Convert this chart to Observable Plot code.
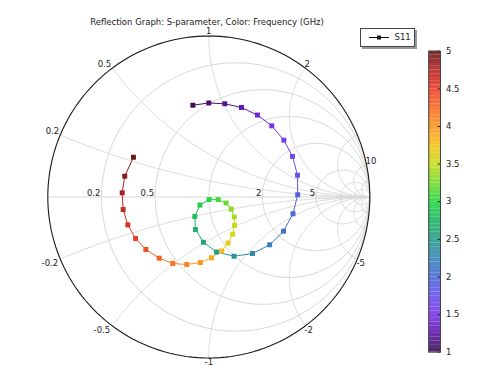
<!DOCTYPE html>
<html><head><meta charset="utf-8">
<script src="https://cdn.jsdelivr.net/npm/d3@7"></script>
<script src="https://cdn.jsdelivr.net/npm/@observablehq/plot@0.6"></script>
<style>
body{margin:0;background:#fff;font-family:"DejaVu Sans",sans-serif;}
#wrap{position:relative;width:479px;height:366px;overflow:hidden;background:#fff;}
#wrap > svg, #wrap > div{position:absolute;}
#title{left:0;top:17px;width:414px;text-align:center;font-size:8.5px;line-height:10px;color:#222;}
#legend{left:359.5px;top:28px;width:53px;height:17px;border:1px solid #444;box-shadow:2px 2px 0 #999;background:#fff;}
#legend span{position:absolute;left:34px;top:3px;font-size:8.5px;line-height:10px;color:#222;}
</style></head><body><div id="wrap"></div>
<script>
// Frequency (GHz) and reflection coefficient S11 (real, imaginary)
const freq = [1.0,1.1,1.2,1.3,1.4,1.5,1.6,1.7,1.8,1.9,2.0,2.1,2.2,2.3,2.4,2.5,2.6,2.7,2.8,2.9,3.0,3.1,3.2,3.3,3.4,3.5,3.6,3.7,3.8,3.9,4.0,4.1,4.2,4.3,4.4,4.5,4.6,4.7,4.8,4.9,5.0];
const s11Re = [-0.099,0.000,0.099,0.203,0.302,0.391,0.466,0.520,0.551,0.552,0.523,0.464,0.378,0.271,0.157,0.048,-0.033,-0.083,-0.087,-0.055,0.002,0.058,0.107,0.139,0.158,0.160,0.148,0.119,0.080,0.017,-0.052,-0.137,-0.224,-0.308,-0.391,-0.455,-0.503,-0.532,-0.538,-0.522,-0.468];
const s11Im = [0.570,0.584,0.579,0.556,0.509,0.442,0.353,0.252,0.135,0.014,-0.104,-0.212,-0.297,-0.351,-0.368,-0.342,-0.281,-0.202,-0.121,-0.050,-0.016,-0.016,-0.037,-0.075,-0.124,-0.177,-0.231,-0.286,-0.335,-0.378,-0.407,-0.419,-0.413,-0.380,-0.326,-0.258,-0.173,-0.078,0.026,0.129,0.247];

// Smith chart grid
const resistanceGrid = [0.2, 0.5, 1, 2, 5, 10, 20];
const reactanceGrid = [0.2, 0.5, 1, 2, 5, 10, 20, -0.2, -0.5, -1, -2, -5, -10, -20];
const resistanceLabels = [0.2, 0.5, 2, 5];
const reactanceLabels = [1, 0.5, 0.2, 2, 10, -0.2, -0.5, -1, -2, -5];

// Colour bar
const colorTicks = [1, 1.5, 2, 2.5, 3, 3.5, 4, 4.5, 5];
const colorStops = [1, 1.25, 1.5, 1.75, 2, 2.25, 2.5, 2.75, 3, 3.25, 3.5, 3.75, 4, 4.25, 4.5, 4.75, 5];
const colorStopColors = ["#3b0f4f","#5c16a8","#7b35ec","#6752ea","#4a6ad8","#3585b5","#249c8c","#1fb864","#22d840","#7ada2a","#c8dc1c","#f8c21a","#fa9522","#f86a22","#ec3c26","#b82424","#681818"];

const title = "Reflection Graph: S-parameter, Color: Frequency (GHz)";
const seriesName = "S11";

const data = freq.map((f, i) => ({f, re: s11Re[i], im: s11Im[i]}));

// grid geometry from the grid values
function resistanceCircle(r, id) {
  const c = r / (1 + r), rad = 1 / (1 + r);
  return d3.range(0, 361, 2).map(a => ({id, re: c + rad * Math.cos(a * Math.PI / 180), im: rad * Math.sin(a * Math.PI / 180)}));
}
function reactanceArc(x, id) {
  const pts = d3.range(0, 400).map(k => {
    const r = Math.tan(k / 400 * Math.PI / 2);
    const den = (r + 1) * (r + 1) + x * x;
    return {id, re: (r * r - 1 + x * x) / den, im: 2 * x / den};
  });
  pts.push({id, re: 1, im: 0});
  return pts;
}
const gridLines = [
  ...resistanceGrid.flatMap(r => resistanceCircle(r, "r" + r)),
  ...reactanceGrid.flatMap(x => reactanceArc(x, "x" + x))
];
const outer = resistanceCircle(0, "outer");

const rLab = resistanceLabels.map(r => ({t: String(r), re: (r - 1) / (r + 1), im: 0}));
const xLab = reactanceLabels.map(x => ({t: String(x), re: (x * x - 1) / (x * x + 1), im: 2 * x / (x * x + 1)}));

const font = {fontFamily: '"DejaVu Sans", sans-serif', fontSize: "8.5px", fill: "#222"};
function labelGroup(filter, anchor, dx, dy) {
  return Plot.text(xLab.filter(filter), {x: "re", y: "im", text: "t", textAnchor: anchor, dx, dy, ...font});
}

const colorOpts = {type: "linear", domain: colorStops, range: colorStopColors};

const main = Plot.plot({
  width: 479, height: 366,
  marginLeft: 47.3, marginRight: 109.7, marginTop: 35.5, marginBottom: 8.5,
  x: {domain: [-1, 1], axis: null},
  y: {domain: [-1, 1], axis: null},
  color: colorOpts,
  style: {background: "transparent", fontFamily: '"DejaVu Sans", sans-serif'},
  marks: [
    Plot.line(gridLines, {x: "re", y: "im", z: "id", stroke: "#d8d8d8", strokeWidth: 1}),
    Plot.ruleY([0], {x1: -1, x2: 1, stroke: "#d8d8d8", strokeWidth: 1}),
    Plot.line(outer, {x: "re", y: "im", stroke: "#1a1a1a", strokeWidth: 1.1}),
    Plot.text(rLab, {x: "re", y: "im", text: "t", textAnchor: "end", dx: -1, dy: -4, ...font}),
    labelGroup(d => d.re < -0.05 && d.im > 0, "end", -1, -4),
    labelGroup(d => d.re > 0.05 && d.im > 0, "start", -1, -4),
    labelGroup(d => d.re < -0.05 && d.im < 0, "end", -2, 4.5),
    labelGroup(d => d.re > 0.05 && d.im < 0, "start", -1, 4.5),
    labelGroup(d => Math.abs(d.re) <= 0.05 && d.im > 0, "middle", 0, -5),
    labelGroup(d => Math.abs(d.re) <= 0.05 && d.im < 0, "middle", 0, 4.5),
    Plot.line(data, {x: "re", y: "im", stroke: "f", z: null, strokeWidth: 1}),
    Plot.dot(data, {x: "re", y: "im", fill: "f", symbol: "square", r: 2.8})
  ]
});
main.style.left = "0px"; main.style.top = "0px";

const slices = d3.range(1, 5, 0.05);
const bar = Plot.plot({
  width: 60, height: 320,
  marginLeft: 18.3, marginRight: 30, marginTop: 10.7, marginBottom: 8.3,
  x: {domain: [0, 1], axis: null},
  y: {domain: [1, 5]},
  color: colorOpts,
  style: {background: "transparent", fontFamily: '"DejaVu Sans", sans-serif', fontSize: "8.5px", color: "#222"},
  marks: [
    Plot.rect(slices, {x1: 0, x2: 1, y1: d => d, y2: d => d + 0.05, fill: d => d + 0.025, fillOpacity: 0.9}),
    Plot.ruleY(colorTicks, {x1: 0.8, x2: 1, stroke: "#222", strokeWidth: 1}),
    Plot.axisY({anchor: "right", ticks: colorTicks, tickSize: 0, tickPadding: 5.5, tickFormat: d => String(d), label: null}),
    Plot.frame({stroke: "#444"})
  ]
});
bar.style.left = "410px"; bar.style.top = "40px";

const wrap = document.getElementById("wrap");
wrap.appendChild(main);
wrap.appendChild(bar);

const t = document.createElement("div");
t.id = "title"; t.textContent = title;
wrap.appendChild(t);

const lg = document.createElement("div");
lg.id = "legend";
lg.innerHTML = '<svg width="30" height="17" style="position:absolute;left:0;top:0"><line x1="8" x2="28" y1="8.5" y2="8.5" stroke="#111" stroke-width="1"/><rect x="16" y="6.5" width="4" height="4" fill="#111"/></svg>';
const sp = document.createElement("span");
sp.textContent = seriesName;
lg.appendChild(sp);
wrap.appendChild(lg);
</script>
</body></html>
